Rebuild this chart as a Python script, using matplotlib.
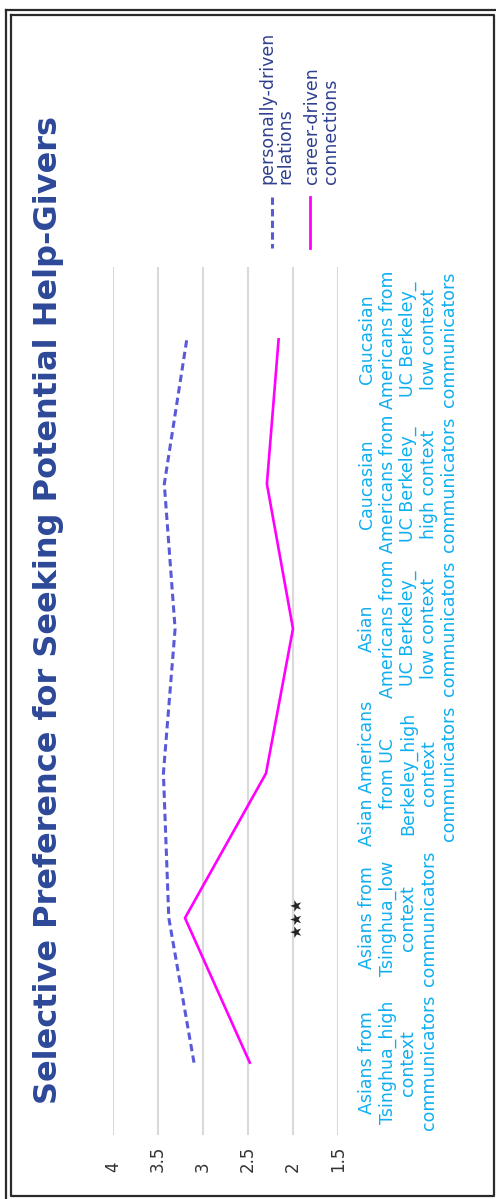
import numpy as np
import matplotlib
matplotlib.use("Agg")
import matplotlib.pyplot as plt
from matplotlib.lines import Line2D

# chart data (original chart is landscape, drawn here turned a quarter to the left)
categories = [
    "Asians from\nTsinghua_high\ncontext\ncommunicators",
    "Asians from\nTsinghua_low\ncontext\ncommunicators",
    "Asian Americans\nfrom UC\nBerkeley_high\ncontext\ncommunicators",
    "Asian\nAmericans from\nUC Berkeley_\nlow context\ncommunicators",
    "Caucasian\nAmericans from\nUC Berkeley_\nhigh context\ncommunicators",
    "Caucasian\nAmericans from\nUC Berkeley_\nlow context\ncommunicators",
]
personally = [3.10, 3.38, 3.44, 3.31, 3.43, 3.18]
career = [2.48, 3.20, 2.30, 2.00, 2.29, 2.16]
value_ticks = [4, 3.5, 3, 2.5, 2, 1.5]
value_labels = ["4", "3.5", "3", "2.5", "2", "1.5"]
series_names = ["personally-driven\nrelations", "career-driven\nconnections"]

W, H = 496, 1199
TITLE_COL = "#2c4898"
LEG_COL = "#2e3f8f"
CAT_COL = "#0eaef0"
P_COL = "#5a5ad8"
C_COL = "#ff00ff"


def px(x, y):
    return x / W, 1 - y / H


fig = plt.figure(figsize=(W / 100, H / 100), dpi=100)

# plot area in pixels: x 113..338, y 267..1135
ax = fig.add_axes([113 / W, 1 - 1135 / H, (338 - 113) / W, (1135 - 267) / H])
idx = np.arange(len(categories))

ax.set_xlim(4, 1.5)
ax.set_ylim(-0.5, len(categories) - 0.5)
for v in value_ticks:
    ax.axvline(v, color="#dadada", lw=1.5, zorder=0)
for s in ax.spines.values():
    s.set_visible(False)
ax.set_xticks([])
ax.set_yticks([])
ax.patch.set_alpha(0)

ax.plot(personally, idx, color=P_COL, lw=2.2, dashes=(2.4, 1.4), zorder=3,
        solid_capstyle="butt")
ax.plot(career, idx, color=C_COL, lw=1.9, zorder=4)

# value tick labels (bottom, turned)
xt = ax.get_xaxis_transform()
for v, lab in zip(value_ticks, value_labels):
    ax.text(v, -0.043, lab, transform=xt, rotation=90, ha="center", va="bottom",
            fontsize=12, color="#333333", clip_on=False)

# category labels (right side, turned)
yt = ax.get_yaxis_transform()
for i, lab in enumerate(categories):
    ax.text(1.09, i, lab, transform=yt, rotation=90, ha="left", va="center",
            multialignment="center", fontsize=12.5, color=CAT_COL,
            linespacing=1.17, clip_on=False)

# significance mark
ax.text(1.96, 1, "★★★", rotation=90, ha="center", va="center", fontsize=11,
        color="#222222")

# title
fig.text(*px(49, 610), "Selective Preference for Seeking Potential Help-Givers",
         rotation=90, ha="center", va="center", fontsize=23, fontweight="bold",
         color=TITLE_COL)

# legend, drawn by hand
fig.add_artist(Line2D([px(272, 197)[0]] * 2, [px(0, 197)[1], px(0, 248)[1]],
                      transform=fig.transFigure, color=P_COL, lw=2.2,
                      dashes=(2.4, 1.4)))
fig.add_artist(Line2D([px(310, 197)[0]] * 2, [px(0, 197)[1], px(0, 248)[1]],
                      transform=fig.transFigure, color=C_COL, lw=2.0))
fig.text(*px(258, 184), series_names[0], rotation=90, ha="left", va="bottom",
         multialignment="left", fontsize=12.5, color=LEG_COL, linespacing=1.05)
fig.text(*px(303, 184), series_names[1], rotation=90, ha="left", va="bottom",
         multialignment="left", fontsize=12.5, color=LEG_COL, linespacing=1.05)

# frame
frame = "#2a2a2a"
fig.add_artist(Line2D([px(6, 0)[0], px(496, 0)[0]], [px(0, 9.5)[1]] * 2,
                      transform=fig.transFigure, color=frame, lw=1.6))
fig.add_artist(Line2D([px(6, 0)[0]] * 2, [px(0, 9.5)[1], px(0, 1199)[1]],
                      transform=fig.transFigure, color=frame, lw=1.6))
box_x = [11, 494, 494, 11, 11]
box_y = [14.5, 14.5, 1196, 1196, 14.5]
fig.add_artist(Line2D([px(x, 0)[0] for x in box_x], [px(0, y)[1] for y in box_y],
                      transform=fig.transFigure, color=frame, lw=1.6))

fig.savefig("out.png", dpi=100)
